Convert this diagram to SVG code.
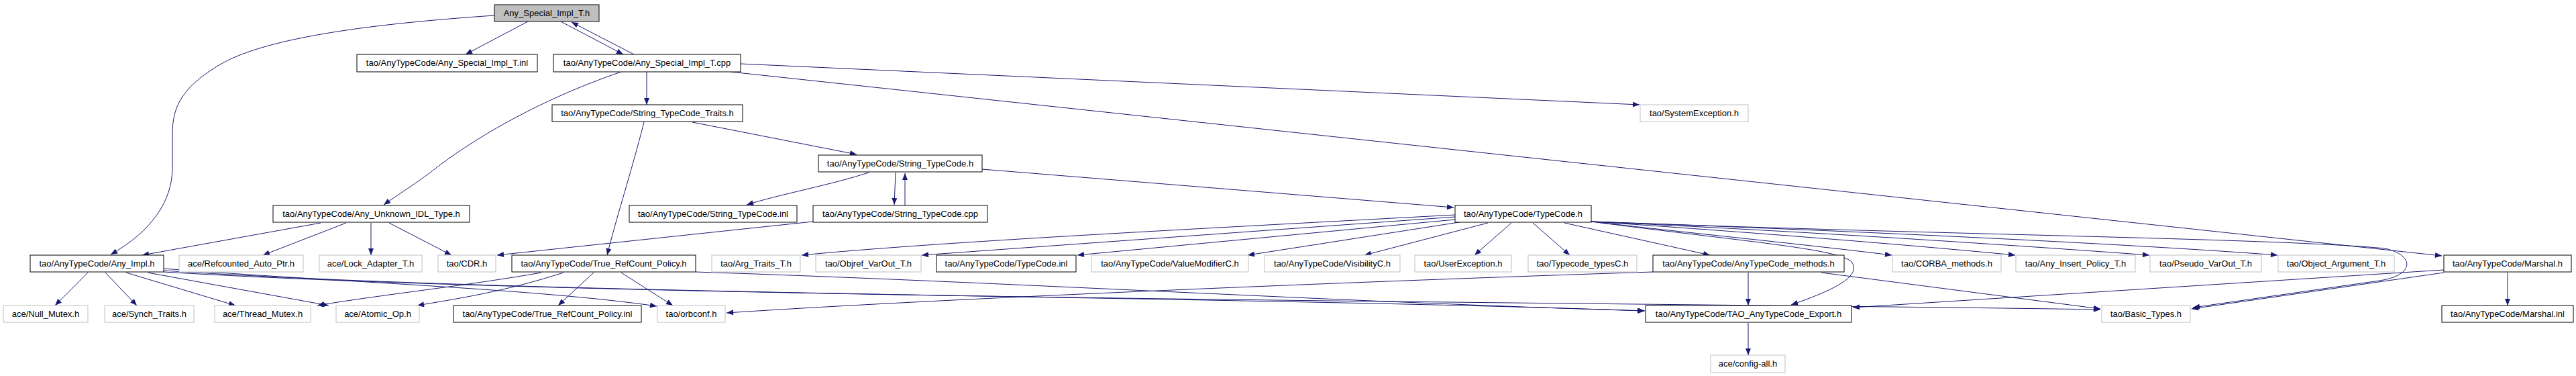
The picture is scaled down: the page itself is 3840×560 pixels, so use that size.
<svg xmlns="http://www.w3.org/2000/svg" width="3840" height="560" viewBox="0 0 3840 560">
<style>
.n rect{fill:#fff;stroke:#000;stroke-width:1}
.g rect{fill:#fff;stroke:#bfbfbf;stroke-width:1}
.r rect{fill:#bfbfbf;stroke:#000;stroke-width:1}
text{font-family:"Liberation Sans",Arial,sans-serif;font-size:13px;fill:#000;text-anchor:middle}
#edges path{fill:none;stroke:#191970;stroke-width:1;marker-end:url(#a)}
</style>
<defs>
<marker id="a" viewBox="0 0 10 8" refX="10" refY="4" markerWidth="11" markerHeight="8" markerUnits="userSpaceOnUse" orient="auto"><path d="M0,0 L10,4 L0,8 z" fill="#191970"/></marker>
</defs>
<rect width="3840" height="560" fill="#fff"/>
<g id="edges">
<path d="M787,32 L694,81"/>
<path d="M836,32 L929,81"/>
<path d="M945,81 L852,33"/>
<path d="M737,23 C560,35 400,55 330,95 C270,130 257,160 257,200 L257,250 C257,300 225,345 165,379"/>
<path d="M926,107 C800,150 700,210 640,258 C610,280 590,292 572,305"/>
<path d="M964,107 L964,156"/>
<path d="M1104,95 L2444,156"/>
<path d="M1089,107 L3640,381"/>
<path d="M1032,182 L1277,230"/>
<path d="M960,182 C940,260 920,320 905,380"/>
<path d="M1295,257 C1240,275 1160,290 1113,305"/>
<path d="M1335,257 L1333,305"/>
<path d="M1349,306 L1349,258"/>
<path d="M1464,252 L2167,309"/>
<path d="M1212,330 L741,380"/>
<path d="M478,332 L212,380"/>
<path d="M516,332 L392,380"/>
<path d="M553,332 L553,380"/>
<path d="M580,332 L673,380"/>
<path d="M131,406 L82,455"/>
<path d="M157,406 L204,455"/>
<path d="M188,406 L351,455"/>
<path d="M220,406 L490,455"/>
<path d="M244,400 C500,420 800,430 979,456"/>
<path d="M244,403 C800,440 1800,440 2452,463"/>
<path d="M244,405 C900,445 2400,450 3131,461"/>
<path d="M885,406 L832,455"/>
<path d="M926,406 L1003,455"/>
<path d="M807,406 C700,425 560,440 473,455"/>
<path d="M840,406 C750,435 680,445 622,455"/>
<path d="M1037,405 C1500,420 2000,450 2451,463"/>
<path d="M2169,320 C1800,340 1400,360 1195,380"/>
<path d="M2169,323 L1374,380"/>
<path d="M2169,327 L1606,380"/>
<path d="M2175,331 L1860,380"/>
<path d="M2218,332 L2034,380"/>
<path d="M2253,332 L2198,380"/>
<path d="M2285,332 L2340,380"/>
<path d="M2332,332 L2549,380"/>
<path d="M2372,330 C2500,345 2700,365 2820,380"/>
<path d="M2372,330 C2600,345 2850,365 3004,380"/>
<path d="M2372,330 C2700,345 3000,365 3204,380"/>
<path d="M2372,330 C2800,345 3200,365 3395,380"/>
<path d="M2372,330 C2600,360 2740,370 2760,390 C2775,410 2740,430 2670,454"/>
<path d="M2372,330 C2900,350 3400,355 3555,370 C3600,380 3600,410 3547,418 L3269,458"/>
<path d="M2606,406 L2606,455"/>
<path d="M2715,406 L3131,460"/>
<path d="M2464,405 C2000,420 1400,445 1083,466"/>
<path d="M2606,481 L2606,529"/>
<path d="M3643,402 L2762,458"/>
<path d="M3643,406 L3267,460"/>
<path d="M3738,406 L3738,455"/>
</g>
<g id="n_root" class="r"><rect x="737" y="7" width="156" height="25"/><text x="815" y="24">Any_Special_Impl_T.h</text></g>
<g id="n_inl" class="n"><rect x="532" y="81" width="269" height="26"/><text x="666.5" y="98">tao/AnyTypeCode/Any_Special_Impl_T.inl</text></g>
<g id="n_cpp" class="n"><rect x="825" y="81" width="279" height="26"/><text x="964.5" y="98">tao/AnyTypeCode/Any_Special_Impl_T.cpp</text></g>
<g id="n_traits" class="n"><rect x="823" y="156" width="284" height="25"/><text x="965" y="173">tao/AnyTypeCode/String_TypeCode_Traits.h</text></g>
<g id="n_sysexc" class="g"><rect x="2445" y="156" width="161" height="25"/><text x="2525.5" y="173">tao/SystemException.h</text></g>
<g id="n_stc" class="n"><rect x="1220" y="231" width="244" height="25"/><text x="1342" y="248">tao/AnyTypeCode/String_TypeCode.h</text></g>
<g id="n_unknown" class="n"><rect x="407" y="306" width="293" height="25"/><text x="553.5" y="323">tao/AnyTypeCode/Any_Unknown_IDL_Type.h</text></g>
<g id="n_stcinl" class="n"><rect x="938" y="306" width="250" height="25"/><text x="1063" y="323">tao/AnyTypeCode/String_TypeCode.inl</text></g>
<g id="n_stccpp" class="n"><rect x="1212" y="306" width="260" height="25"/><text x="1342" y="323">tao/AnyTypeCode/String_TypeCode.cpp</text></g>
<g id="n_typecode" class="n"><rect x="2169" y="306" width="203" height="25"/><text x="2270.5" y="323">tao/AnyTypeCode/TypeCode.h</text></g>
<g id="n_anyimpl" class="n"><rect x="45" y="380" width="199" height="25"/><text x="144.5" y="397">tao/AnyTypeCode/Any_Impl.h</text></g>
<g id="n_refcnt" class="g"><rect x="267" y="380" width="185" height="25"/><text x="359.5" y="397">ace/Refcounted_Auto_Ptr.h</text></g>
<g id="n_lockad" class="g"><rect x="476" y="380" width="153" height="25"/><text x="552.5" y="397">ace/Lock_Adapter_T.h</text></g>
<g id="n_cdr" class="g"><rect x="653" y="380" width="86" height="25"/><text x="696" y="397">tao/CDR.h</text></g>
<g id="n_truerc" class="n"><rect x="763" y="380" width="274" height="25"/><text x="900" y="397">tao/AnyTypeCode/True_RefCount_Policy.h</text></g>
<g id="n_argtraits" class="g"><rect x="1061" y="380" width="132" height="25"/><text x="1127" y="397">tao/Arg_Traits_T.h</text></g>
<g id="n_objref" class="g"><rect x="1216" y="380" width="157" height="25"/><text x="1294.5" y="397">tao/Objref_VarOut_T.h</text></g>
<g id="n_tcinl" class="n"><rect x="1396" y="380" width="208" height="25"/><text x="1500" y="397">tao/AnyTypeCode/TypeCode.inl</text></g>
<g id="n_valmod" class="g"><rect x="1627" y="380" width="234" height="25"/><text x="1744" y="397">tao/AnyTypeCode/ValueModifierC.h</text></g>
<g id="n_visib" class="g"><rect x="1885" y="380" width="202" height="25"/><text x="1986" y="397">tao/AnyTypeCode/VisibilityC.h</text></g>
<g id="n_userexc" class="g"><rect x="2109" y="380" width="144" height="25"/><text x="2181" y="397">tao/UserException.h</text></g>
<g id="n_tctypes" class="g"><rect x="2278" y="380" width="162" height="25"/><text x="2359" y="397">tao/Typecode_typesC.h</text></g>
<g id="n_methods" class="n"><rect x="2464" y="380" width="285" height="25"/><text x="2606.5" y="397">tao/AnyTypeCode/AnyTypeCode_methods.h</text></g>
<g id="n_corba" class="g"><rect x="2821" y="380" width="162" height="25"/><text x="2902" y="397">tao/CORBA_methods.h</text></g>
<g id="n_anyins" class="g"><rect x="3005" y="380" width="178" height="25"/><text x="3094" y="397">tao/Any_Insert_Policy_T.h</text></g>
<g id="n_pseudo" class="g"><rect x="3205" y="380" width="166" height="25"/><text x="3288" y="397">tao/Pseudo_VarOut_T.h</text></g>
<g id="n_objarg" class="g"><rect x="3396" y="380" width="173" height="25"/><text x="3482.5" y="397">tao/Object_Argument_T.h</text></g>
<g id="n_marshal" class="n"><rect x="3643" y="380" width="190" height="25"/><text x="3738" y="397">tao/AnyTypeCode/Marshal.h</text></g>
<g id="n_nullmutex" class="g"><rect x="5" y="455" width="126" height="25"/><text x="68" y="472">ace/Null_Mutex.h</text></g>
<g id="n_synch" class="g"><rect x="156" y="455" width="133" height="25"/><text x="222.5" y="472">ace/Synch_Traits.h</text></g>
<g id="n_thread" class="g"><rect x="320" y="455" width="143" height="25"/><text x="391.5" y="472">ace/Thread_Mutex.h</text></g>
<g id="n_atomic" class="g"><rect x="501" y="455" width="124" height="25"/><text x="563" y="472">ace/Atomic_Op.h</text></g>
<g id="n_truercinl" class="n"><rect x="676" y="455" width="280" height="25"/><text x="816" y="472">tao/AnyTypeCode/True_RefCount_Policy.inl</text></g>
<g id="n_orbconf" class="g"><rect x="980" y="455" width="101" height="25"/><text x="1030.5" y="472">tao/orbconf.h</text></g>
<g id="n_export" class="n"><rect x="2453" y="455" width="307" height="25"/><text x="2606.5" y="472">tao/AnyTypeCode/TAO_AnyTypeCode_Export.h</text></g>
<g id="n_basic" class="g"><rect x="3133" y="455" width="132" height="25"/><text x="3199" y="472">tao/Basic_Types.h</text></g>
<g id="n_marshalinl" class="n"><rect x="3640" y="455" width="196" height="25"/><text x="3738" y="472">tao/AnyTypeCode/Marshal.inl</text></g>
<g id="n_config" class="g"><rect x="2550" y="529" width="111" height="26"/><text x="2605.5" y="546">ace/config-all.h</text></g>
</svg>
